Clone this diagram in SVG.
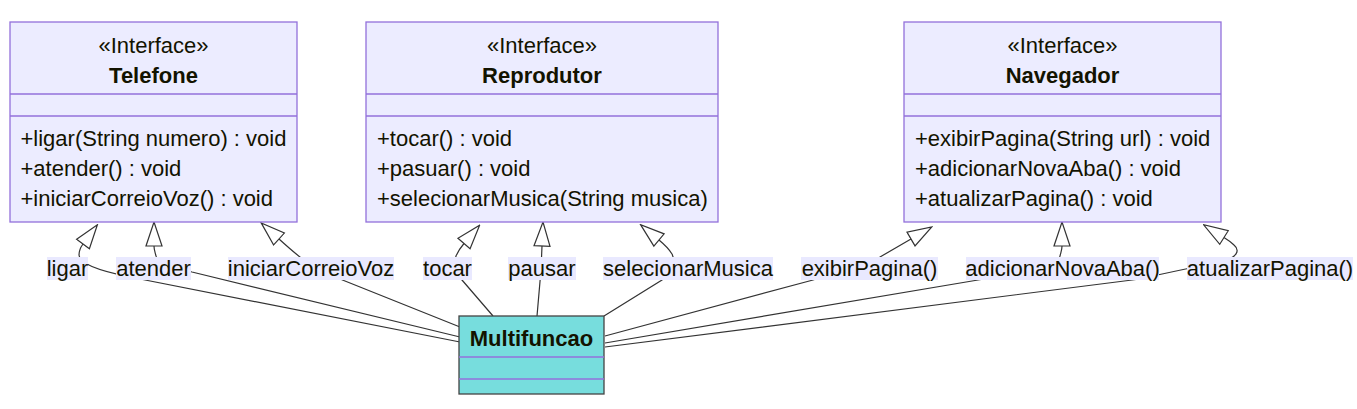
<svg xmlns="http://www.w3.org/2000/svg" width="1357" height="409" viewBox="0 0 1357 409">
<style>
  .box { fill: #ECECFF; stroke: #9370DB; stroke-width: 1.3; }
  .div { stroke: #9370DB; stroke-width: 1.3; }
  .multi { fill: #77DDDD; stroke: #444; stroke-width: 1.3; }
  text { font-family: "Liberation Sans", Arial, sans-serif; font-size: 22px; fill: #131300; }
  .c { text-anchor: middle; }
  .b { font-weight: bold; }
  .edge { fill: none; stroke: #333; stroke-width: 1.2; marker-end: url(#ext); }
  .lbl { fill: #E9E9FF; }
</style>
<defs>
  <marker id="ext" viewBox="-1 -1 26 20" refX="0" refY="9" markerWidth="26" markerHeight="20" markerUnits="userSpaceOnUse" orient="auto">
    <path d="M0,1 L0,17 L24,9 Z" fill="#fff" stroke="#333" stroke-width="1.2"/>
  </marker>
</defs>

<g id="connectors">
  <path class="edge" d="M460,342 L130,277 C100,271 79,264 79,255 C79,251 80,248 83,244"/>
  <path class="edge" d="M460,337 L192,272 C170,266 157,262 156,256 C155,252 154,250 154,246"/>
  <path class="edge" d="M460,327 L320,271 C310,266 300,258 279,239"/>
  <path class="edge" d="M493,316 L462,280 C455,272 454,262 456,256 C458,251 461,247 464,243.5"/>
  <path class="edge" d="M537,316 L541,270 L542,246"/>
  <path class="edge" d="M604,316 L662,280 C670,272 676,262 672,254 C669,249 665,245 659,240"/>
  <path class="edge" d="M605,336 L813,280 C840,272 865,265 880,257 L911,239"/>
  <path class="edge" d="M605,343 L978,280 C1040,270 1060,262 1060,256 C1061,252 1062,250 1062,246"/>
  <path class="edge" d="M605,347 L1140,279 C1170,272 1200,266 1220,262 C1238,258 1240,250 1234,245 C1231,242 1228,240 1224,237.5"/>
</g>

<g id="edge-labels">
  <rect class="lbl" x="47" y="257" width="41" height="23"/><text class="c" x="67.5" y="276">ligar</text>
  <rect class="lbl" x="116" y="257" width="75" height="23"/><text class="c" x="153.5" y="276">atender</text>
  <rect class="lbl" x="228" y="257" width="166" height="23"/><text class="c" x="311" y="276">iniciarCorreioVoz</text>
  <rect class="lbl" x="423" y="257" width="49" height="23"/><text class="c" x="447.5" y="276">tocar</text>
  <rect class="lbl" x="508" y="257" width="68" height="23"/><text class="c" x="542" y="276">pausar</text>
  <rect class="lbl" x="603" y="257" width="170" height="23"/><text class="c" x="688" y="276">selecionarMusica</text>
  <rect class="lbl" x="801" y="257" width="137" height="23"/><text class="c" x="869.5" y="276">exibirPagina()</text>
  <rect class="lbl" x="966" y="257" width="193" height="23"/><text class="c" x="1062.5" y="276">adicionarNovaAba()</text>
  <rect class="lbl" x="1187" y="257" width="166" height="23"/><text class="c" x="1270" y="276">atualizarPagina()</text>
</g>

<g id="Telefone">
  <rect class="box" x="10" y="22" width="287" height="200"/>
  <line class="div" x1="10" y1="94" x2="297" y2="94"/>
  <line class="div" x1="10" y1="116" x2="297" y2="116"/>
  <text class="c" x="153.5" y="52.5">«Interface»</text>
  <text class="c b" x="153.5" y="82.5">Telefone</text>
  <text x="20.5" y="145.5">+ligar(String numero) : void</text>
  <text x="20.5" y="175.5">+atender() : void</text>
  <text x="20.5" y="205.5">+iniciarCorreioVoz() : void</text>
</g>

<g id="Reprodutor">
  <rect class="box" x="366" y="22" width="352" height="200"/>
  <line class="div" x1="366" y1="94" x2="718" y2="94"/>
  <line class="div" x1="366" y1="116" x2="718" y2="116"/>
  <text class="c" x="542" y="52.5">«Interface»</text>
  <text class="c b" x="542" y="82.5">Reprodutor</text>
  <text x="377" y="145.5">+tocar() : void</text>
  <text x="377" y="175.5">+pasuar() : void</text>
  <text x="377" y="205.5">+selecionarMusica(String musica)</text>
</g>

<g id="Navegador">
  <rect class="box" x="904" y="22" width="317" height="200"/>
  <line class="div" x1="904" y1="94" x2="1221" y2="94"/>
  <line class="div" x1="904" y1="116" x2="1221" y2="116"/>
  <text class="c" x="1062.5" y="52.5">«Interface»</text>
  <text class="c b" x="1062.5" y="82.5">Navegador</text>
  <text x="915" y="145.5">+exibirPagina(String url) : void</text>
  <text x="915" y="175.5">+adicionarNovaAba() : void</text>
  <text x="915" y="205.5">+atualizarPagina() : void</text>
</g>

<g id="Multifuncao">
  <rect class="multi" x="459" y="316" width="145" height="78"/>
  <line class="div" x1="459" y1="357" x2="604" y2="357"/>
  <line class="div" x1="459" y1="379" x2="604" y2="379"/>
  <text class="c b" x="531.5" y="346">Multifuncao</text>
</g>
</svg>
